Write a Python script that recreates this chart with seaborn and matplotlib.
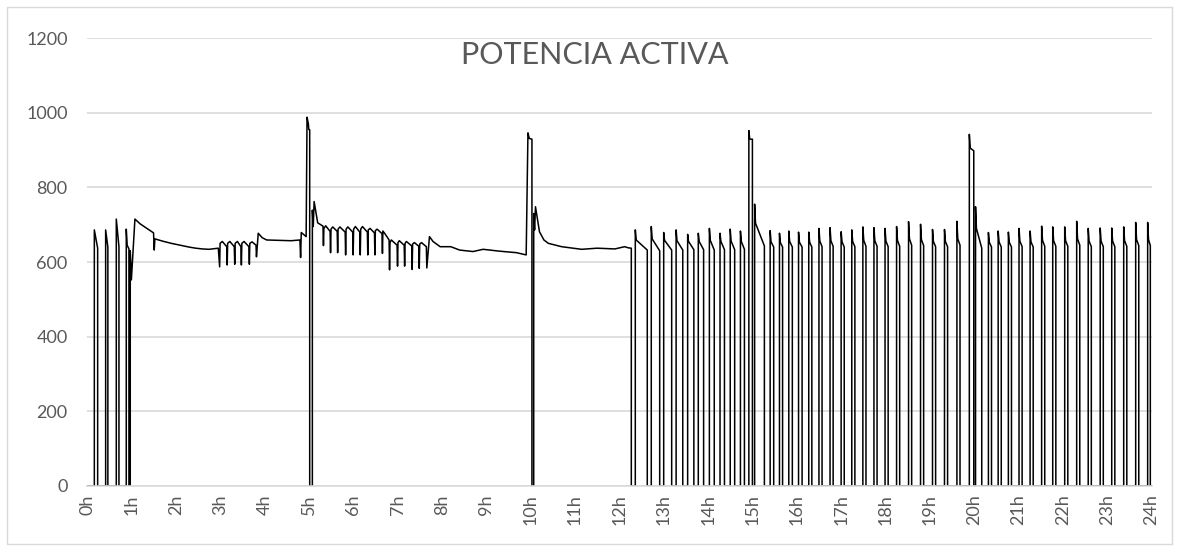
import matplotlib
matplotlib.use("Agg")
import matplotlib.pyplot as plt
import seaborn as sns
import pandas as pd
from matplotlib.patches import Rectangle

# ==============================
# DATA (hours, W)
# ==============================
# short cycles before the long run
early_on = [0.165, 0.42, 0.66]
early_off = [0.24, 0.47, 0.72]
early_peak = [686, 686, 715]
early_end = [637, 640, 641]

# long run ~0.9h - 12.3h, with defrost spikes at 5h and 10h
run_t = [0.885, 0.885, 0.905, 0.945, 0.945, 0.975, 0.975, 1.00, 1.08, 1.20,
         1.35, 1.50, 1.515, 1.53, 1.70, 1.90, 2.10, 2.30, 2.45, 2.60,
         2.75, 2.96, 2.99, 3.00, 3.05, 3.15, 3.16, 3.17, 3.22, 3.32,
         3.33, 3.34, 3.39, 3.47, 3.48, 3.49, 3.54, 3.65, 3.66, 3.67,
         3.72, 3.81, 3.82, 3.86, 3.95, 4.05, 4.30, 4.60, 4.80, 4.815,
         4.83, 4.94, 4.96, 4.99, 5.00, 5.02, 5.02, 5.08, 5.08, 5.10,
         5.12, 5.20, 5.32, 5.33, 5.34, 5.38, 5.48, 5.49, 5.50, 5.54,
         5.64, 5.65, 5.66, 5.70, 5.82, 5.83, 5.84, 5.88, 5.99, 6.00,
         6.01, 6.05, 6.15, 6.16, 6.17, 6.21, 6.32, 6.33, 6.34, 6.38,
         6.48, 6.49, 6.50, 6.54, 6.65, 6.66, 6.67, 6.72, 6.81, 6.82,
         6.83, 6.86, 6.99, 7.00, 7.01, 7.04, 7.15, 7.16, 7.17, 7.20,
         7.32, 7.33, 7.34, 7.38, 7.48, 7.49, 7.50, 7.54, 7.65, 7.66,
         7.72, 7.80, 7.96, 8.20, 8.40, 8.70, 8.93, 9.30, 9.68, 9.90,
         9.94, 9.97, 10.03, 10.03, 10.07, 10.07, 10.09, 10.11, 10.20, 10.30,
         10.40, 10.70, 11.15, 11.50, 11.90, 12.12, 12.20, 12.27, 12.27]
run_p = [0, 688, 645, 635, 0, 0, 630, 552, 715, 702,
         690, 678, 632, 662, 656, 650, 645, 640, 637, 635,
         634, 637, 587, 650, 655, 641, 592, 650, 655, 641,
         594, 650, 655, 641, 592, 650, 655, 641, 594, 650,
         654, 645, 614, 677, 665, 659, 658, 657, 659, 612,
         679, 668, 988, 970, 955, 954, 0, 0, 739, 695,
         762, 705, 696, 644, 690, 697, 682, 625, 688, 694,
         682, 625, 688, 694, 680, 619, 688, 694, 680, 619,
         688, 695, 680, 619, 688, 695, 680, 619, 686, 690,
         678, 619, 684, 688, 676, 623, 683, 675, 659, 579,
         652, 659, 645, 589, 652, 657, 645, 589, 650, 655,
         643, 580, 648, 652, 642, 583, 648, 652, 641, 584,
         668, 655, 641, 641, 632, 628, 634, 629, 625, 619,
         946, 931, 929, 0, 0, 730, 686, 748, 681, 659,
         650, 641, 634, 637, 635, 641, 638, 637, 0]

# on/off cycling from 12.3h to 24h (spikes = defrost at 15h and 20h)
cyc_on = [12.36, 12.72, 13.00, 13.28, 13.54, 13.78, 14.03, 14.27, 14.50, 14.73,
          14.92, 15.05,
          15.40, 15.61, 15.82, 16.04, 16.27, 16.50, 16.75, 17.00, 17.24, 17.49,
          17.74, 17.99, 18.25, 18.52, 18.79, 19.06, 19.33, 19.61,
          19.89, 20.03,
          20.32, 20.54, 20.77, 21.01, 21.26, 21.52, 21.77, 22.04, 22.31, 22.57,
          22.84, 23.10, 23.37, 23.64, 23.91]
cyc_off = [12.63, 12.91, 13.18, 13.43, 13.68, 13.90, 14.14, 14.37, 14.60, 14.82,
           15.00, 15.27,
           15.48, 15.68, 15.90, 16.12, 16.34, 16.57, 16.82, 17.07, 17.31, 17.56,
           17.81, 18.06, 18.32, 18.59, 18.86, 19.13, 19.40, 19.68,
           19.99, 20.17,
           20.39, 20.61, 20.84, 21.08, 21.33, 21.59, 21.84, 22.11, 22.38, 22.64,
           22.91, 23.17, 23.44, 23.71, 23.97]
cyc_peak = [686, 695, 679, 686, 674, 677, 690, 677, 688, 683,
            952, 755,
            684, 677, 683, 680, 680, 690, 692, 681, 686, 694,
            692, 690, 695, 708, 701, 687, 687, 709,
            942, 748,
            679, 683, 680, 690, 683, 696, 694, 694, 709, 690,
            691, 691, 694, 706, 706]
cyc_knee = [659, 662, 658, 657, 655, 655, 658, 655, 656, 655,
            929, 704,
            654, 652, 655, 653, 653, 656, 657, 654, 655, 658,
            657, 656, 658, 662, 660, 655, 655, 662,
            905, 690,
            653, 654, 653, 656, 654, 658, 657, 657, 662, 656,
            656, 656, 657, 660, 660]
cyc_end = [632, 630, 632, 632, 633, 633, 632, 633, 633, 634,
           929, 643,
           640, 640, 640, 640, 640, 641, 642, 640, 641, 642,
           642, 641, 642, 645, 644, 641, 641, 645,
           898, 637,
           640, 640, 640, 641, 640, 642, 642, 642, 645, 641,
           641, 641, 642, 644, 644]
KNEE_H = 0.02  # time from start-up peak to the knee of the decay

hour_ticks = list(range(25))
hour_labels = [f"{h}h" for h in hour_ticks]

# ==============================
# BUILD SERIES
# ==============================
t, p = [0.0], [0]
for on, off, pk, en in zip(early_on, early_off, early_peak, early_end):
    t += [on, on, off, off]
    p += [0, pk, en, 0]
t += run_t
p += run_p
for on, off, pk, kn, en in zip(cyc_on, cyc_off, cyc_peak, cyc_knee, cyc_end):
    t += [on, on, on + KNEE_H, off, off]
    p += [0, pk, kn, en, 0]
t.append(24.0)
p.append(0)
df = pd.DataFrame({"hora": t, "potencia": p})

# ==============================
# STYLE
# ==============================
sns.set_theme(style="white")
plt.rcParams["font.family"] = ["Lato", "DejaVu Sans"]

fig = plt.figure(figsize=(11.79, 5.51), dpi=100)
ax = fig.add_axes([0.0738, 0.118, 0.903, 0.813])

sns.lineplot(data=df, x="hora", y="potencia", estimator=None, sort=False,
             color="black", linewidth=1.1, ax=ax)

ax.set_xlim(0, 24)
ax.set_ylim(0, 1200)
ax.set_yticks(range(0, 1201, 200))
ax.set_xticks(hour_ticks)
ax.set_xticklabels(hour_labels, rotation=90)
ax.set_xlabel("")
ax.set_ylabel("")

ax.yaxis.grid(True, color="#d9d9d9", linewidth=1.2)
ax.set_axisbelow(True)
for side in ["top", "right", "left"]:
    ax.spines[side].set_visible(False)
ax.spines["bottom"].set_color("#d9d9d9")
ax.spines["bottom"].set_linewidth(1.2)

ax.tick_params(axis="both", length=0, colors="#595959", labelsize=13)
ax.tick_params(axis="y", pad=14)
ax.tick_params(axis="x", pad=6)

fig.text(595 / 1179, 1 - 55 / 551, "POTENCIA ACTIVA", ha="center", va="center",
         fontsize=22, color="#595959", fontweight="normal")

fig.patches.append(Rectangle((0.006, 0.012), 0.988, 0.976, transform=fig.transFigure,
                             fill=False, edgecolor="#d9d9d9", linewidth=1))

fig.savefig("out.png", dpi=100)
